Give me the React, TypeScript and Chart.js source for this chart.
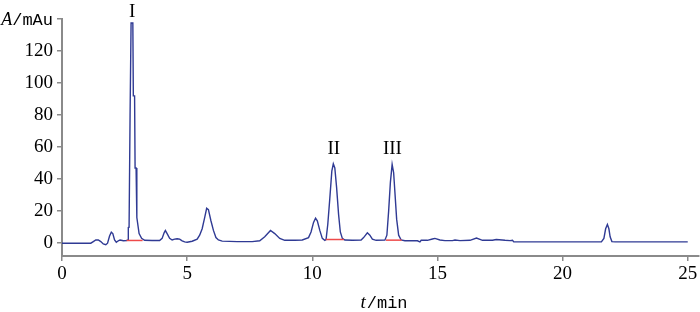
import React, { useEffect, useRef } from 'react';
import { Chart, registerables } from 'chart.js';

Chart.register(...registerables);

// Chromatogram trace: retention time (min) and absorbance (mAu)
const times = [
  0, 1.15, 1.25, 1.35, 1.45, 1.55, 1.65, 1.75, 1.82, 1.9, 1.97, 2.03, 2.1, 2.17, 2.25, 2.32, 2.45, 2.58, 2.64,
  2.65, 2.68, 2.72, 2.76, 2.83, 2.85, 2.9, 2.92, 2.96, 2.99, 3.08, 3.18, 3.3, 3.6, 3.9, 4.0, 4.08, 4.13, 4.2,
  4.3, 4.4, 4.5, 4.6, 4.7, 4.8, 4.9, 5.0, 5.2, 5.4, 5.5, 5.6, 5.7, 5.78, 5.85, 5.95, 6.05, 6.15, 6.25, 6.4,
  7.0, 7.6, 7.9, 8.1, 8.33, 8.5, 8.7, 8.9, 9.3, 9.6, 9.85, 9.95, 10.05, 10.13, 10.2, 10.3, 10.4, 10.5, 10.55,
  10.62, 10.7, 10.78, 10.84, 10.9, 10.97, 11.05, 11.12, 11.2, 11.3, 11.6, 11.95, 12.05, 12.2, 12.3, 12.4,
  12.55, 12.9, 12.98, 13.05, 13.12, 13.19, 13.25, 13.3, 13.37, 13.45, 13.55, 13.7, 14.2, 14.3, 14.35, 14.6,
  14.8, 14.9, 15.1, 15.3, 15.6, 15.7, 15.9, 16.3, 16.56, 16.8, 17.2, 17.35, 17.7, 17.9, 18.0, 18.05, 21.55,
  21.65, 21.72, 21.79, 21.85, 21.9, 21.97, 22.1, 25,
];
const absorbance = [
  0, 0, 1, 2, 2, 1, -0.5, -1, 0, 4.5, 6.9, 6, 2, 0.6, 1.5, 2, 1.5, 1.7, 2,
  9.8, 10, 80, 137.5, 137.5, 92, 92, 47, 47, 16, 6, 3, 1.8, 1.7, 1.7, 3, 6.5, 7.9, 6,
  3, 2, 2.5, 2.8, 2.5, 1.5, 0.8, 0.6, 1.2, 2.5, 5, 9, 16, 21.8, 21, 14, 8, 3.5, 2, 1.3,
  1, 1, 1.5, 4, 7.9, 6, 3, 1.8, 1.8, 2, 3.5, 7, 13, 15.6, 14, 8, 3, 1.8, 2.3,
  12, 28, 45, 49.6, 47, 35, 18, 7, 3, 2, 1.8, 2, 3.5, 6.5, 5, 2.5,
  1.8, 1.9, 5, 20, 38, 49.2, 44, 32, 15, 5, 2, 1.5, 1.5, 0.8, 1.8, 1.8,
  2.6, 3, 2, 1.6, 1.6, 2, 1.6, 1.8, 3.2, 1.8, 1.8, 2.3, 1.8, 1.6, 1.8, 0.8, 0.8,
  3, 9, 11.7, 9, 4, 1, 0.8, 0.8,
];

const xTicks = [0, 5, 10, 15, 20, 25];
const yTicks = [0, 20, 40, 60, 80, 100, 120, 140];
const xMin = 0;
const xMax = 25.45;
const yMin = -8;
const yMax = 140;

const yTitleItalic = 'A';
const yTitleRest = '/mAu';
const xTitleItalic = 't';
const xTitleRest = '/min';

const peakNames = ['I', 'II', 'III'];
const peakTimes = [2.8, 10.86, 13.2];
const peakLabelLevels = [141.5, 55.5, 55.5];

const baselineStarts = [2.58, 10.54, 12.94];
const baselineEnds = [3.22, 11.26, 13.57];
const baselineLevels = [1.7, 2.3, 1.9];

const SERIF = '"Liberation Serif", "Times New Roman", serif';
const MONO = '"Liberation Mono", "DejaVu Sans Mono", monospace';
const AXIS_GRAY = '#8a8a8a';
const TRACE = '#2f3a94';
const RED = '#ee4a4a';

const textPlugin = {
  id: 'chromText',
  afterDraw(chart: any) {
    const { ctx, chartArea, scales } = chart;
    const xs = scales.x;
    const ys = scales.y;
    ctx.save();
    ctx.fillStyle = '#000';
    ctx.textBaseline = 'alphabetic';

    // peak labels
    ctx.font = `19px ${SERIF}`;
    ctx.textAlign = 'center';
    peakNames.forEach((name, i) => {
      ctx.fillText(name, xs.getPixelForValue(peakTimes[i]), ys.getPixelForValue(peakLabelLevels[i]));
    });

    // y title at top tick (right aligned)
    ctx.textAlign = 'left';
    const yTop = ys.getPixelForValue(yMax);
    ctx.font = `17px ${MONO}`;
    const restW = ctx.measureText(yTitleRest).width;
    ctx.font = `italic 18px ${SERIF}`;
    const itW = ctx.measureText(yTitleItalic).width;
    const rightEdge = chartArea.left - 9;
    const startX = rightEdge - restW - itW;
    ctx.fillText(yTitleItalic, startX, yTop + 6);
    ctx.font = `17px ${MONO}`;
    ctx.fillText(yTitleRest, startX + itW, yTop + 6);

    // x title
    ctx.font = `17px ${MONO}`;
    const xrW = ctx.measureText(xTitleRest).width;
    ctx.font = `italic 19px ${SERIF}`;
    const xiW = ctx.measureText(xTitleItalic).width;
    const cx = (chartArea.left + chartArea.right) / 2 + 3;
    const sx = cx - (xrW + xiW) / 2;
    ctx.fillText(xTitleItalic, sx, 308);
    ctx.font = `17px ${MONO}`;
    ctx.fillText(xTitleRest, sx + xiW + 1, 308);
    ctx.restore();
  },
};

export default function App() {
  const ref = useRef<HTMLCanvasElement | null>(null);

  useEffect(() => {
    if (!ref.current) return;
    const trace = times.map((t, i) => ({ x: t, y: absorbance[i] }));
    const baselineSets = baselineStarts.map((s, i) => ({
      data: [
        { x: s, y: baselineLevels[i] },
        { x: baselineEnds[i], y: baselineLevels[i] },
      ],
      borderColor: RED,
      borderWidth: 1.5,
      pointRadius: 0,
      tension: 0,
      order: 0,
    }));
    const chart = new Chart(ref.current, {
      type: 'line',
      data: {
        datasets: [
          {
            data: trace,
            borderColor: TRACE,
            borderWidth: 1.4,
            pointRadius: 0,
            tension: 0,
            order: 1,
          },
          ...baselineSets,
        ],
      },
      options: {
        animation: false,
        responsive: false,
        devicePixelRatio: 1,
        layout: { padding: { top: 19, right: 1, left: 0, bottom: 0 } },
        plugins: { legend: { display: false }, tooltip: { enabled: false } },
        scales: {
          x: {
            type: 'linear',
            min: xMin,
            max: xMax,
            afterBuildTicks: (scale: any) => {
              scale.ticks = xTicks.map((v) => ({ value: v }));
            },
            afterFit: (scale: any) => {
              scale.height = 56;
              scale.paddingLeft = 0;
              scale.paddingRight = 0;
            },
            grid: { drawOnChartArea: false, drawTicks: true, tickLength: 5, color: AXIS_GRAY, lineWidth: 1.5 },
            border: { display: true, color: AXIS_GRAY, width: 2 },
            ticks: {
              color: '#000',
              font: { family: SERIF, size: 19 },
              padding: 2,
              maxRotation: 0,
              callback: (v: any) => String(v),
            },
          },
          y: {
            type: 'linear',
            min: yMin,
            max: yMax,
            afterBuildTicks: (scale: any) => {
              scale.ticks = yTicks.map((v) => ({ value: v }));
            },
            afterFit: (scale: any) => {
              scale.width = 62;
            },
            grid: { drawOnChartArea: false, drawTicks: true, tickLength: 5, color: AXIS_GRAY, lineWidth: 1.5 },
            border: { display: true, color: AXIS_GRAY, width: 2 },
            ticks: {
              color: '#000',
              font: { family: SERIF, size: 19 },
              padding: 4,
              callback: (v: any) => (v === yMax ? '' : String(v)),
            },
          },
        },
      },
      plugins: [textPlugin],
    });
    return () => chart.destroy();
  }, []);

  return (
    <div style={{ position: 'absolute', left: 0, top: 0, width: 700, height: 312, background: '#fff' }}>
      <canvas ref={ref} width={700} height={312} style={{ display: 'block' }} />
    </div>
  );
}
